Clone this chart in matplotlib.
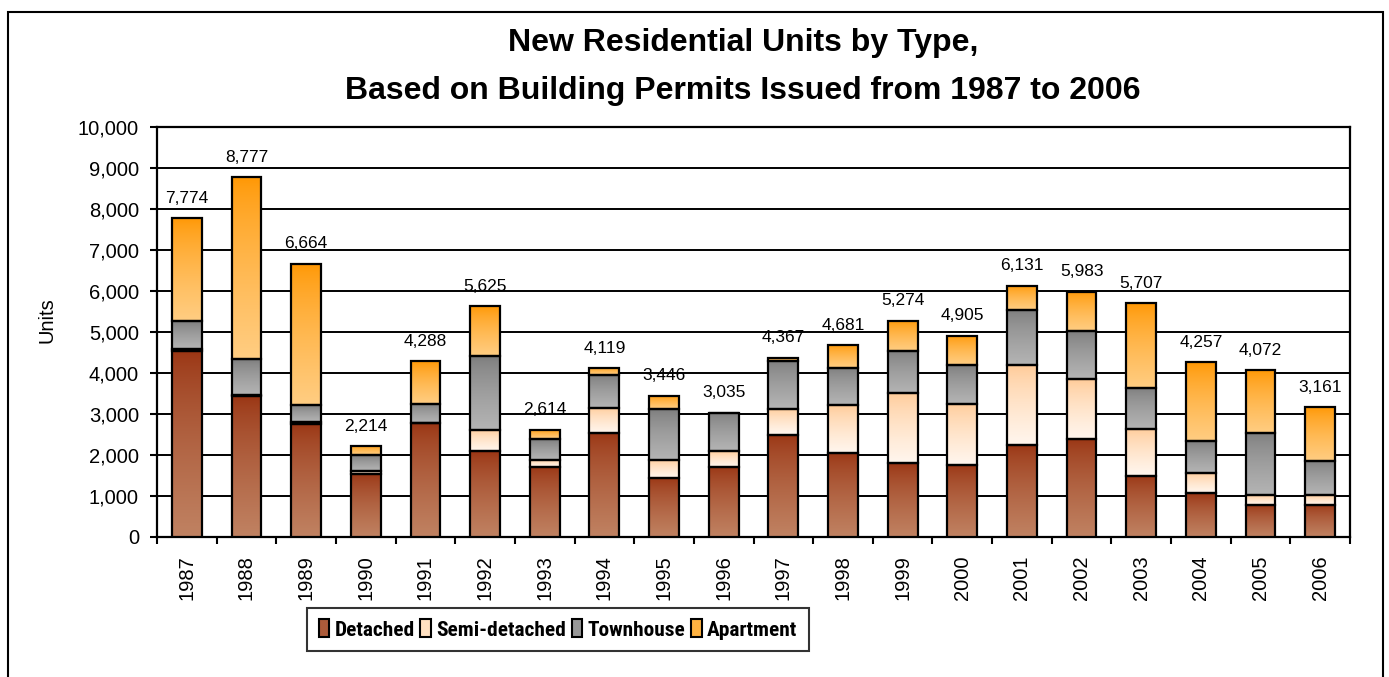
import numpy as np
import matplotlib.pyplot as plt
from matplotlib import font_manager
from matplotlib.colors import LinearSegmentedColormap
from matplotlib.patches import Rectangle

plt.rcParams['font.family'] = ['Liberation Sans', 'DejaVu Sans']

years = [str(y) for y in range(1987, 2007)]
detached = [4540, 3450, 2760, 1545, 2770, 2090, 1710, 2540, 1450, 1710,
            2500, 2050, 1800, 1760, 2250, 2400, 1500, 1070, 790, 790]
semi = [50, 10, 50, 55, 10, 530, 180, 610, 440, 380,
        610, 1160, 1710, 1490, 1940, 1450, 1130, 490, 230, 230]
townhouse = [670, 870, 400, 390, 470, 1800, 490, 790, 1220, 945,
             1180, 910, 1030, 940, 1350, 1170, 1010, 780, 1520, 830]
apartment = [2514, 4447, 3454, 224, 1038, 1205, 234, 179, 336, 0,
             77, 561, 734, 715, 591, 963, 2067, 1917, 1532, 1311]

series = [
    ("Detached", detached, "#993311", "#c08262"),
    ("Semi-detached", semi, "#ffc994", "#fff6ee"),
    ("Townhouse", townhouse, "#7b7b7b", "#b4b4b4"),
    ("Apartment", apartment, "#ff9600", "#ffcd82"),
]

# legend font: a narrow bold face if one is installed
legend_family = 'Liberation Sans'
for cand in ['Liberation Sans Narrow', 'Roboto Condensed', 'Open Sans Condensed',
             'DejaVu Sans Condensed']:
    try:
        font_manager.findfont(font_manager.FontProperties(family=cand, weight='bold'),
                              fallback_to_default=False)
        legend_family = cand
        break
    except Exception:
        pass

fig = plt.figure(figsize=(13.89, 6.77), dpi=100)
ax = fig.add_axes([157 / 1389, 1 - 537 / 677, (1350 - 157) / 1389, 410 / 677])

x = np.arange(len(years))
bottom = np.zeros(len(years))
grad = np.linspace(0, 1, 256).reshape(-1, 1) ** 0.7
for name, vals, top_c, bot_c in series:
    vals = np.array(vals, dtype=float)
    bars = ax.bar(x, vals, 0.5, bottom=bottom, facecolor='none',
                  edgecolor='black', linewidth=1.6, zorder=4)
    cmap = LinearSegmentedColormap.from_list(name, [top_c, bot_c])
    for b in bars:
        if b.get_height() <= 0:
            continue
        im = ax.imshow(grad, cmap=cmap, aspect='auto', zorder=3,
                       extent=[b.get_x(), b.get_x() + b.get_width(),
                               b.get_y(), b.get_y() + b.get_height()],
                       origin='upper')
        im.set_clip_path(b)
    bottom += vals

totals = bottom
for xi, t in zip(x, totals):
    ax.annotate(f"{int(t):,}", (xi, t), xytext=(0, 9), textcoords='offset points',
                ha='center', va='bottom', fontsize=12.5)

ax.set_xlim(-0.5, len(years) - 0.5)
ax.set_ylim(0, 10000)
ax.set_yticks(np.arange(0, 10001, 1000))
ax.set_yticklabels([f"{v:,}" for v in range(0, 10001, 1000)], fontsize=14.5)
ax.tick_params(axis='y', direction='out', length=5, width=1.5, pad=8)
ax.set_xticks(x)
ax.set_xticklabels(years, rotation=90, fontsize=14.5)
ax.tick_params(axis='x', which='major', length=0, pad=13)
ax.set_xticks(np.arange(-0.5, len(years), 1), minor=True)
ax.tick_params(axis='x', which='minor', direction='out', length=5, width=1.5)
ax.grid(axis='y', color='black', linewidth=1.4, zorder=1)
ax.set_axisbelow(True)
for s in ax.spines.values():
    s.set_linewidth(1.6)

fig.text(47 / 1389, 1 - 320 / 677, "Units", rotation=90, ha='center', va='center',
         fontsize=14.5)
fig.text(743 / 1389, 1 - 51 / 677, "New Residential Units by Type,", ha='center',
         va='baseline', fontsize=23, fontweight='bold')
fig.text(743 / 1389, 1 - 99 / 677, "Based on Building Permits Issued from 1987 to 2006",
         ha='center', va='baseline', fontsize=23, fontweight='bold')

# size the legend text so "Detached" is about 80 px wide, as in the original
renderer = fig.canvas.get_renderer()
probe = fig.text(0, 0, "Detached", family=legend_family, weight='bold', size=10)
w = probe.get_window_extent(renderer).width
probe.remove()
leg_size = min(17, 10 * 80 / w)

handles = [Rectangle((0, 0), 1, 1, facecolor=LinearSegmentedColormap.from_list(
    n, [t, b])(0.5), edgecolor='black', linewidth=1.5) for n, _, t, b in series]
leg = fig.legend(handles, [s[0] for s in series], loc='center', ncol=4,
                 bbox_to_anchor=(558 / 1389, 1 - 629.5 / 677),
                 prop={'family': legend_family, 'weight': 'bold', 'size': leg_size},
                 frameon=True, fancybox=False, edgecolor='black',
                 handlelength=0.5, handleheight=0.9, handletextpad=0.25,
                 columnspacing=0.25, borderpad=0.55)
leg.get_frame().set_linewidth(1.5)

fig.add_artist(Rectangle((8 / 1389, -0.05), (1383 - 8) / 1389, 0.05 + 1 - 12 / 677,
                         transform=fig.transFigure, fill=False, linewidth=1.5,
                         edgecolor='black'))

fig.savefig("out.png", dpi=100)
